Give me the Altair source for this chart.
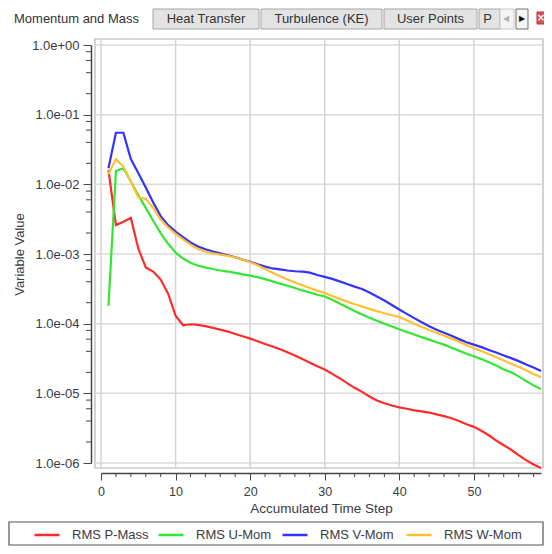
import altair as alt
import pandas as pd

# ---------------- data ----------------
steps = list(range(1, 60))
p_mass = [1.6e-2, 2.6e-3, 2.9e-3, 3.3e-3, 1.2e-3, 6.4e-4, 5.6e-4, 4.3e-4, 2.7e-4, 1.3e-4,
          9.5e-5, 9.8e-5, 9.6e-5, 9.2e-5, 8.7e-5, 8.2e-5, 7.7e-5, 7.1e-5, 6.6e-5, 6.1e-5,
          5.6e-5, 5.1e-5, 4.7e-5, 4.3e-5, 3.9e-5, 3.5e-5, 3.1e-5, 2.75e-5, 2.45e-5, 2.2e-5,
          1.9e-5, 1.65e-5, 1.4e-5, 1.2e-5, 1.05e-5, 9.0e-6, 7.9e-6, 7.2e-6, 6.7e-6, 6.3e-6,
          6.0e-6, 5.7e-6, 5.5e-6, 5.3e-6, 5.0e-6, 4.7e-6, 4.4e-6, 4.0e-6, 3.6e-6, 3.3e-6,
          2.9e-6, 2.5e-6, 2.1e-6, 1.8e-6, 1.55e-6, 1.3e-6, 1.1e-6, 9.5e-7, 8.5e-7]
u_mom = [1.8e-4, 1.55e-2, 1.7e-2, 1.1e-2, 7.0e-3, 4.6e-3, 3.0e-3, 2.0e-3, 1.4e-3, 1.05e-3,
         8.6e-4, 7.5e-4, 6.8e-4, 6.4e-4, 6.1e-4, 5.8e-4, 5.6e-4, 5.35e-4, 5.1e-4, 4.9e-4,
         4.65e-4, 4.35e-4, 4.05e-4, 3.75e-4, 3.5e-4, 3.25e-4, 3.0e-4, 2.8e-4, 2.6e-4, 2.45e-4,
         2.2e-4, 1.95e-4, 1.72e-4, 1.52e-4, 1.35e-4, 1.22e-4, 1.1e-4, 1.0e-4, 9.1e-5, 8.3e-5,
         7.6e-5, 7.0e-5, 6.4e-5, 5.9e-5, 5.4e-5, 5.0e-5, 4.5e-5, 4.1e-5, 3.7e-5, 3.4e-5,
         3.1e-5, 2.8e-5, 2.5e-5, 2.2e-5, 2.0e-5, 1.75e-5, 1.5e-5, 1.3e-5, 1.15e-5]
v_mom = [1.7e-2, 5.5e-2, 5.5e-2, 2.3e-2, 1.45e-2, 9.0e-3, 5.5e-3, 3.5e-3, 2.6e-3, 2.1e-3,
         1.75e-3, 1.47e-3, 1.28e-3, 1.17e-3, 1.08e-3, 1.02e-3, 9.6e-4, 9.0e-4, 8.3e-4, 7.7e-4,
         7.1e-4, 6.6e-4, 6.2e-4, 6.0e-4, 5.8e-4, 5.65e-4, 5.6e-4, 5.4e-4, 5.0e-4, 4.7e-4,
         4.4e-4, 4.05e-4, 3.7e-4, 3.4e-4, 3.15e-4, 2.8e-4, 2.45e-4, 2.15e-4, 1.85e-4, 1.6e-4,
         1.38e-4, 1.2e-4, 1.05e-4, 9.2e-5, 8.2e-5, 7.4e-5, 6.7e-5, 6.0e-5, 5.4e-5, 5.0e-5,
         4.6e-5, 4.2e-5, 3.85e-5, 3.5e-5, 3.2e-5, 2.9e-5, 2.6e-5, 2.35e-5, 2.1e-5]
w_mom = [1.4e-2, 2.3e-2, 1.8e-2, 1.1e-2, 6.5e-3, 6.2e-3, 4.6e-3, 3.1e-3, 2.4e-3, 1.95e-3,
         1.62e-3, 1.36e-3, 1.18e-3, 1.08e-3, 1.02e-3, 9.8e-4, 9.4e-4, 8.9e-4, 8.3e-4, 7.6e-4,
         6.9e-4, 6.1e-4, 5.4e-4, 4.8e-4, 4.3e-4, 3.9e-4, 3.55e-4, 3.25e-4, 2.98e-4, 2.75e-4,
         2.5e-4, 2.27e-4, 2.07e-4, 1.9e-4, 1.76e-4, 1.63e-4, 1.51e-4, 1.41e-4, 1.32e-4, 1.25e-4,
         1.12e-4, 1.0e-4, 9.0e-5, 8.1e-5, 7.4e-5, 6.7e-5, 6.1e-5, 5.5e-5, 4.95e-5, 4.45e-5,
         4.05e-5, 3.65e-5, 3.3e-5, 2.95e-5, 2.65e-5, 2.4e-5, 2.15e-5, 1.9e-5, 1.7e-5]

series_names = ["RMS P-Mass", "RMS U-Mom", "RMS V-Mom", "RMS W-Mom"]
series_colors = ["#ff2b2b", "#33e633", "#3333ff", "#ffbf33"]

y_decades = [1e0, 1e-1, 1e-2, 1e-3, 1e-4, 1e-5, 1e-6]
y_minor = [m * 10.0 ** k for k in range(-6, 0) for m in (2, 4, 6, 8)]
x_major = [0, 10, 20, 30, 40, 50]
x_minor = [v for v in range(2, 59, 2) if v % 10 != 0]

tab_labels = ["Momentum and Mass", "Heat Transfer", "Turbulence (KE)", "User Points", "P"]

# ---------------- layout constants ----------------
W, H = 440, 418
FONT = "Liberation Sans"
TXT = "#3a3a44"
AXC = "#454545"

rows = []
for name, vals in zip(series_names, [p_mass, u_mom, v_mom, w_mom]):
    for s, v in zip(steps, vals):
        rows.append({"step": s, "value": v, "series": name})
df = pd.DataFrame(rows)

xs = alt.Scale(domain=[0, 59], nice=False, zero=False)
ys = alt.Scale(type="log", domain=[1e-6, 1], nice=False)
one = pd.DataFrame({"a": [0]})

label_expr = ("'1.0e' + (round(log(datum.value)/LN10) < 0 ? '-' : '+') + "
              "(abs(round(log(datum.value)/LN10)) < 10 ? '0' : '') + abs(round(log(datum.value)/LN10))")

X_AXIS = alt.Axis(values=x_major, tickSize=7, offset=10, grid=False, format="d",
                  domainColor=AXC, tickColor=AXC, domainWidth=1.5,
                  labelFont=FONT, labelFontSize=12.5, labelColor=TXT, labelPadding=5,
                  labelFlush=False, labelOverlap=False,
                  title="Accumulated Time Step", titleFont=FONT, titleFontSize=13.5,
                  titleFontWeight="normal", titleColor=TXT, titlePadding=4)
Y_AXIS = alt.Axis(values=y_decades, tickSize=8, offset=10, grid=False, labelExpr=label_expr,
                  domainColor=AXC, tickColor=AXC, domainWidth=1.5,
                  labelFont=FONT, labelFontSize=13, labelColor=TXT, labelPadding=4,
                  labelFlush=False, labelOverlap=False,
                  title="Variable Value", titleFont=FONT, titleFontSize=13,
                  titleFontWeight="normal", titleColor=TXT, titlePadding=5)

frame = alt.Chart(one).mark_rect(fill="white", stroke="#b4b4b4", strokeWidth=1.2).encode(
    x=alt.value(-6), x2=alt.value(442), y=alt.value(-6), y2=alt.value(423))

hgrid = alt.Chart(pd.DataFrame({"v": y_decades})).mark_rule(color="#dadada", strokeWidth=1.5).encode(
    y=alt.Y("v:Q", scale=ys, axis=Y_AXIS), x=alt.value(-6), x2=alt.value(442))

vgrid = alt.Chart(pd.DataFrame({"v": x_major})).mark_rule(color="#d4d4d4", strokeWidth=1.5).encode(
    x=alt.X("v:Q", scale=xs, axis=X_AXIS), y=alt.value(-6), y2=alt.value(423))

yminor = alt.Chart(pd.DataFrame({"v": y_minor})).mark_rule(color=AXC, strokeWidth=1).encode(
    y=alt.Y("v:Q", scale=ys, axis=Y_AXIS), x=alt.value(-10), x2=alt.value(-15))

xminor = alt.Chart(pd.DataFrame({"v": x_minor})).mark_rule(color=AXC, strokeWidth=1).encode(
    x=alt.X("v:Q", scale=xs, axis=X_AXIS), y=alt.value(H + 10), y2=alt.value(H + 14))

lines = alt.Chart(df).mark_line(strokeWidth=2.2).encode(
    x=alt.X("step:Q", scale=xs, axis=X_AXIS),
    y=alt.Y("value:Q", scale=ys, axis=Y_AXIS),
    color=alt.Color("series:N", sort=series_names,
                    scale=alt.Scale(domain=series_names, range=series_colors),
                    legend=alt.Legend(orient="none", legendX=-68, legendY=476, direction="horizontal",
                                      columns=4, title=None, symbolType="stroke", symbolSize=625,
                                      symbolStrokeWidth=2.5, labelOffset=11, columnPadding=3,
                                      gridAlign="all", labelFont=FONT, labelFontSize=13,
                                      labelColor=TXT, padding=0)),
    order="step:Q",
)

legend_box = alt.Chart(one).mark_rect(fill="white", fillOpacity=0, stroke="#555555", strokeWidth=1.2).encode(
    x=alt.value(-92), x2=alt.value(442), y=alt.value(477), y2=alt.value(500))

# ---------------- tab strip (UI chrome) ----------------
tab_left = [3, 153, 261, 384, 479]
tab_right = [150, 259, 382, 477, 500]
tab_active = [True, False, False, False, False]
chrome = []
for lab, l, r, act in zip(tab_labels, tab_left, tab_right, tab_active):
    if not act:
        chrome.append(alt.Chart(one).mark_rect(fill="#e3e3e3", stroke="#a6a6a6", strokeWidth=1).encode(
            x=alt.value(l - 101), x2=alt.value(r - 101), y=alt.value(-36), y2=alt.value(-16)))
    chrome.append(alt.Chart(one).mark_text(font=FONT, fontSize=13, color="#333333", align="center",
                                           baseline="middle").encode(
        x=alt.value((l + r) / 2 - 101 + (0 if lab != "P" else -2)), y=alt.value(-26), text=alt.value(lab)))

# scroll arrows and close button
chrome.append(alt.Chart(one).mark_rect(fill="#f4f4f4", stroke="#c8c8c8").encode(
    x=alt.value(500 - 101), x2=alt.value(514 - 101), y=alt.value(-36), y2=alt.value(-16)))
chrome.append(alt.Chart(one).mark_rect(fill="#f4f4f4", stroke="#707070").encode(
    x=alt.value(516 - 101), x2=alt.value(528 - 101), y=alt.value(-36), y2=alt.value(-16)))
chrome.append(alt.Chart(one).mark_text(font="DejaVu Sans", fontSize=8, color="#b0b0b0",
                                       align="center", baseline="middle").encode(
    x=alt.value(506 - 101), y=alt.value(-26), text=alt.value("◀")))
chrome.append(alt.Chart(one).mark_text(font="DejaVu Sans", fontSize=8, color="#111111",
                                       align="center", baseline="middle").encode(
    x=alt.value(522 - 101), y=alt.value(-26), text=alt.value("▶")))
chrome.append(alt.Chart(one).mark_rect(fill="#e05050", stroke="#c03030").encode(
    x=alt.value(537 - 101), x2=alt.value(550 - 101), y=alt.value(-33), y2=alt.value(-21)))
chrome.append(alt.Chart(one).mark_text(font="DejaVu Sans", fontSize=10, fontWeight="bold", color="white",
                                       align="center", baseline="middle").encode(
    x=alt.value(541 - 101), y=alt.value(-27), text=alt.value("×")))

chart = alt.layer(frame, hgrid, vgrid, yminor, xminor, lines, legend_box, *chrome).properties(
    width=W, height=H,
    padding={"left": 93, "top": 37, "right": 3, "bottom": 83},
    autosize=alt.AutoSizeParams(type="none"),
).configure_view(stroke=None)

chart.save("out.html", embed_options={"renderer": "svg", "actions": False})
